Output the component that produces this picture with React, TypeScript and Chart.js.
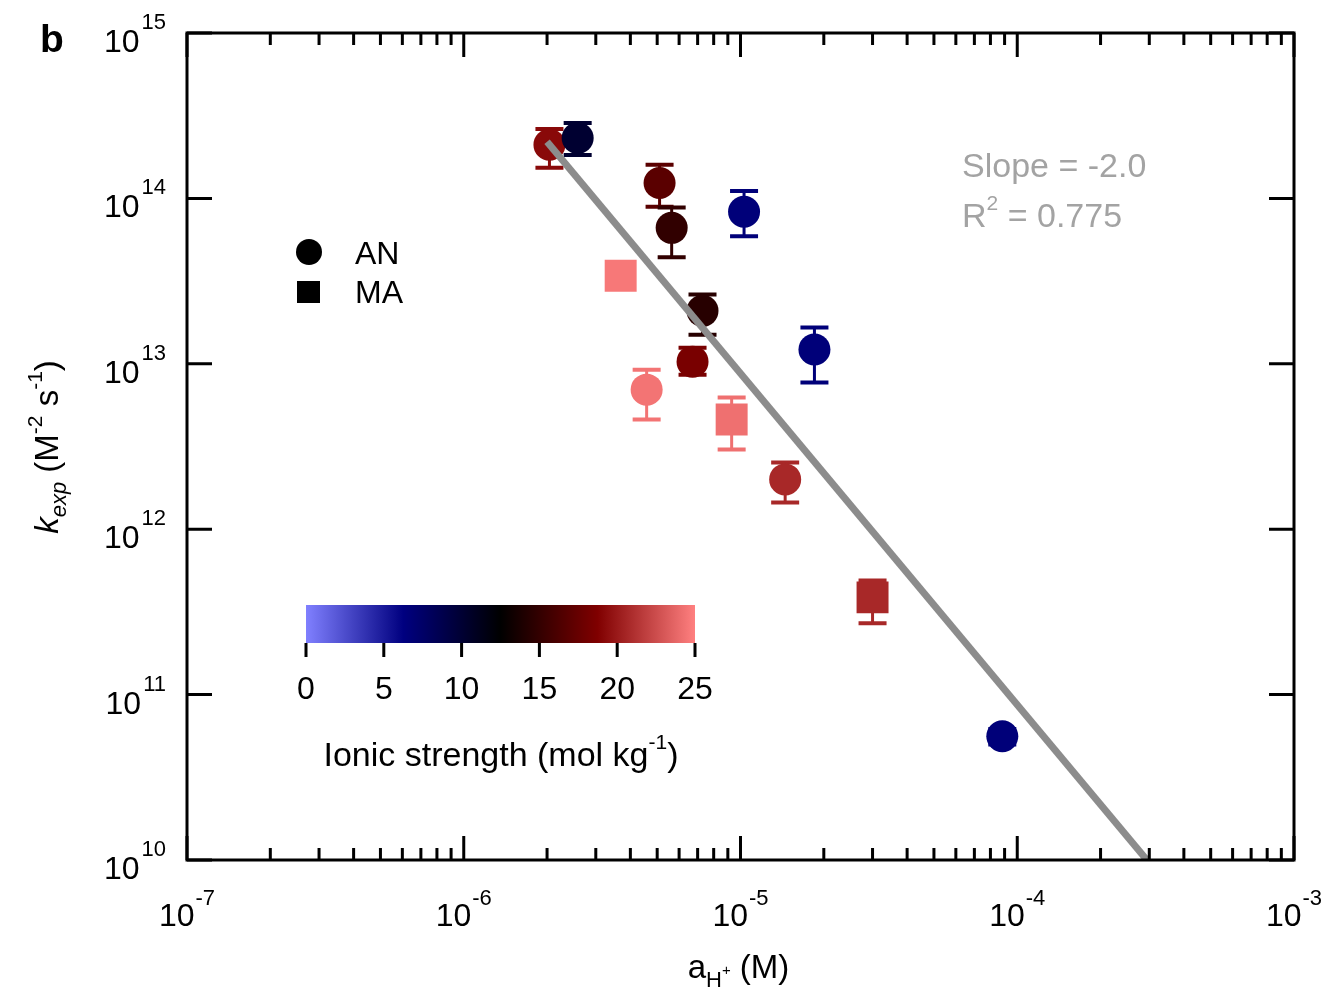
import React, { useEffect, useRef } from 'react';
import { Chart, registerables } from 'chart.js';

Chart.register(...registerables);

// ---------------- data ----------------
// AN (circles)
const anX = [2.04e-6, 2.58e-6, 5.1e-6, 5.64e-6, 1.03e-5, 7.29e-6, 6.71e-6, 1.85e-5, 4.58e-6, 1.45e-5, 8.83e-5];
const anY = [2.11e14, 2.32e14, 1.24e14, 6.64e13, 8.3e13, 2.09e13, 1.03e13, 1.22e13, 6.98e12, 2.0e12, 5.6e10];
const anYHigh = [2.63e14, 2.86e14, 1.6e14, 8.8e13, 1.11e14, 2.62e13, 1.25e13, 1.66e13, 9.2e12, 2.53e12, 6.2e10];
const anYLow = [1.53e14, 1.83e14, 8.9e13, 4.4e13, 5.9e13, 1.5e13, 8.6e12, 7.7e12, 4.6e12, 1.45e12, 5.0e10];
const anIonic = [19.2, 10.1, 16.9, 14.9, 6.6, 14.4, 18.4, 6.6, 24.4, 20.7, 6.6];

// MA (squares)
const maX = [3.69e-6, 9.29e-6, 3.0e-5];
const maY = [3.41e13, 4.6e12, 3.87e11];
const maYHigh = [3.9e13, 6.25e12, 4.9e11];
const maYLow = [3.0e13, 3.03e12, 2.7e11];
const maIonic = [24.6, 24.2, 20.7];

// fit line (slope -2.0)
const fitX = [2.0e-6, 2.94e-4];
const fitY = [2.2e14, 1.0e10];

// axes
const xMajor = [1e-7, 1e-6, 1e-5, 1e-4, 1e-3];
const xMajorExp = ['-7', '-6', '-5', '-4', '-3'];
const yMajor = [1e10, 1e11, 1e12, 1e13, 1e14, 1e15];
const yMajorExp = ['10', '11', '12', '13', '14', '15'];
const colorbarTicks = [0, 5, 10, 15, 20, 25];

// colour map for ionic strength
const cmapStops: [number, number[]][] = [
  [0, [128, 128, 255]],
  [6.25, [0, 0, 128]],
  [12.5, [0, 0, 0]],
  [18.75, [128, 0, 0]],
  [25, [255, 128, 128]],
];

function ionicColor(v: number): string {
  for (let i = 0; i < cmapStops.length - 1; i++) {
    const [a, ca] = cmapStops[i];
    const [b, cb] = cmapStops[i + 1];
    if (v <= b || i === cmapStops.length - 2) {
      const t = Math.max(0, Math.min(1, (v - a) / (b - a)));
      const c = ca.map((x, k) => Math.round(x + (cb[k] - x) * t));
      return `rgb(${c[0]},${c[1]},${c[2]})`;
    }
  }
  return 'black';
}

const FONT = '"Liberation Sans", Arial, Helvetica, sans-serif';

type Part = { t: string; size: number; dy?: number; gap?: number; italic?: boolean; bold?: boolean };

function fontOf(p: Part) {
  return `${p.italic ? 'italic ' : ''}${p.bold ? 'bold ' : ''}${p.size}px ${FONT}`;
}

function drawRich(ctx: CanvasRenderingContext2D, parts: Part[], x: number, y: number, align: 'left' | 'center' | 'right') {
  let w = 0;
  const widths: number[] = [];
  for (const p of parts) {
    ctx.font = fontOf(p);
    const m = ctx.measureText(p.t).width + (p.gap || 0);
    widths.push(m);
    w += m;
  }
  let sx = align === 'left' ? x : align === 'center' ? x - w / 2 : x - w;
  ctx.textAlign = 'left';
  ctx.textBaseline = 'alphabetic';
  parts.forEach((p, i) => {
    ctx.font = fontOf(p);
    ctx.fillText(p.t, sx + (p.gap || 0), y + (p.dy || 0));
    sx += widths[i];
  });
}

const decorPlugin = {
  id: 'decor',
  beforeDatasetsDraw(chart: any) {
    const ctx: CanvasRenderingContext2D = chart.ctx;
    const xs = chart.scales.x;
    const ys = chart.scales.y;
    const drawErr = (xv: number[], hi: number[], lo: number[], ion: number[]) => {
      xv.forEach((xx, i) => {
        const px = xs.getPixelForValue(xx);
        const ph = ys.getPixelForValue(hi[i]);
        const pl = ys.getPixelForValue(lo[i]);
        ctx.save();
        ctx.strokeStyle = ionicColor(ion[i]);
        ctx.lineWidth = 3;
        ctx.beginPath();
        ctx.moveTo(px, ph);
        ctx.lineTo(px, pl);
        ctx.stroke();
        ctx.lineWidth = 4;
        ctx.beginPath();
        ctx.moveTo(px - 14, ph);
        ctx.lineTo(px + 14, ph);
        ctx.moveTo(px - 14, pl);
        ctx.lineTo(px + 14, pl);
        ctx.stroke();
        ctx.restore();
      });
    };
    drawErr(anX, anYHigh, anYLow, anIonic);
    drawErr(maX, maYHigh, maYLow, maIonic);
  },
  afterDraw(chart: any) {
    const ctx: CanvasRenderingContext2D = chart.ctx;
    const xs = chart.scales.x;
    const ys = chart.scales.y;
    const { left, right, top, bottom } = chart.chartArea;
    ctx.save();
    ctx.fillStyle = '#000';
    ctx.strokeStyle = '#000';
    ctx.lineWidth = 3;
    ctx.lineCap = 'butt';
    // frame
    ctx.strokeRect(left, top, right - left, bottom - top);
    // x ticks (major + minor), bottom & top, inward
    ctx.beginPath();
    for (let d = 0; d < xMajor.length; d++) {
      const base = xMajor[d];
      const px = xs.getPixelForValue(base);
      ctx.moveTo(px, bottom);
      ctx.lineTo(px, bottom - 24);
      ctx.moveTo(px, top);
      ctx.lineTo(px, top + 24);
      if (d < xMajor.length - 1) {
        for (let m = 2; m <= 9; m++) {
          const pm = xs.getPixelForValue(base * m);
          ctx.moveTo(pm, bottom);
          ctx.lineTo(pm, bottom - 12);
          ctx.moveTo(pm, top);
          ctx.lineTo(pm, top + 12);
        }
      }
    }
    // y ticks (major only), left & right, inward
    for (const v of yMajor) {
      const py = ys.getPixelForValue(v);
      ctx.moveTo(left, py);
      ctx.lineTo(left + 25, py);
      ctx.moveTo(right, py);
      ctx.lineTo(right - 25, py);
    }
    ctx.stroke();

    // tick labels
    xMajor.forEach((v, i) => {
      const px = xs.getPixelForValue(v);
      drawRich(ctx, [
        { t: '10', size: 32 },
        { t: xMajorExp[i], size: 22, dy: -21, gap: 1 },
      ], px, bottom + 66, 'center');
    });
    yMajor.forEach((v, i) => {
      const py = ys.getPixelForValue(v);
      drawRich(ctx, [
        { t: '10', size: 32 },
        { t: yMajorExp[i], size: 22, dy: -23, gap: 2 },
      ], left - 21, py + 19, 'right');
    });

    // axis titles
    drawRich(ctx, [
      { t: 'a', size: 33 },
      { t: 'H', size: 22, dy: 9 },
      { t: '+', size: 15, dy: -3 },
      { t: ' (M)', size: 33 },
    ], (left + right) / 2 - 2, bottom + 118, 'center');

    ctx.save();
    ctx.translate(58, 447);
    ctx.rotate(-Math.PI / 2);
    drawRich(ctx, [
      { t: 'k', size: 33, italic: true },
      { t: 'exp', size: 22, italic: true, dy: 8 },
      { t: ' (M', size: 33 },
      { t: '-2', size: 21, dy: -16 },
      { t: ' s', size: 33 },
      { t: '-1', size: 21, dy: -16 },
      { t: ')', size: 33 },
    ], 0, 0, 'center');
    ctx.restore();

    // panel label
    drawRich(ctx, [{ t: 'b', size: 39, bold: true }], 40, 52, 'left');

    // legend
    ctx.beginPath();
    ctx.arc(309, 252, 13, 0, Math.PI * 2);
    ctx.fill();
    ctx.fillRect(297, 281, 23, 22);
    drawRich(ctx, [{ t: 'AN', size: 32 }], 355, 264, 'left');
    drawRich(ctx, [{ t: 'MA', size: 32 }], 355, 303, 'left');

    // colour bar
    const cbL = 306, cbR = 695, cbT = 605, cbB = 643;
    const grad = ctx.createLinearGradient(cbL, 0, cbR, 0);
    cmapStops.forEach(([v, c]) => grad.addColorStop(v / 25, `rgb(${c[0]},${c[1]},${c[2]})`));
    ctx.fillStyle = grad;
    ctx.fillRect(cbL, cbT, cbR - cbL, cbB - cbT);
    ctx.fillStyle = '#000';
    ctx.beginPath();
    colorbarTicks.forEach((v) => {
      const px = cbL + (v / 25) * (cbR - cbL);
      ctx.moveTo(px, cbB);
      ctx.lineTo(px, cbB + 14);
    });
    ctx.stroke();
    colorbarTicks.forEach((v) => {
      const px = cbL + (v / 25) * (cbR - cbL);
      drawRich(ctx, [{ t: String(v), size: 32 }], px, 699, 'center');
    });
    drawRich(ctx, [
      { t: 'Ionic strength (mol kg', size: 34 },
      { t: '-1', size: 21, dy: -17 },
      { t: ')', size: 34 },
    ], 501, 766, 'center');

    // fit statistics
    ctx.fillStyle = '#a3a3a3';
    drawRich(ctx, [{ t: 'Slope = -2.0', size: 34 }], 962, 177, 'left');
    drawRich(ctx, [
      { t: 'R', size: 34 },
      { t: '2', size: 21, dy: -17 },
      { t: ' = 0.775', size: 34 },
    ], 962, 227, 'left');
    ctx.restore();
  },
};

export default function App() {
  const ref = useRef<HTMLCanvasElement | null>(null);
  useEffect(() => {
    document.body.style.margin = '0';
    document.body.style.background = '#fff';
    const canvas = ref.current;
    if (!canvas) return;
    const anData = anX.map((x, i) => ({ x, y: anY[i] }));
    const maData = maX.map((x, i) => ({ x, y: maY[i] }));
    const fitData = fitX.map((x, i) => ({ x, y: fitY[i] }));
    const chart = new Chart(canvas, {
      type: 'scatter',
      data: {
        datasets: [
          {
            type: 'line',
            label: 'fit',
            data: fitData,
            borderColor: '#8c8c8c',
            borderWidth: 7,
            pointRadius: 0,
            fill: false,
            order: 0,
          } as any,
          {
            label: 'AN',
            data: anData,
            pointStyle: 'circle',
            pointRadius: 16,
            pointBorderWidth: 0,
            pointBackgroundColor: anIonic.map(ionicColor),
            backgroundColor: anIonic.map(ionicColor),
            borderWidth: 0,
            order: 1,
          },
          {
            label: 'MA',
            data: maData,
            pointStyle: 'rect',
            pointRadius: 22.6,
            pointBorderWidth: 0,
            pointBackgroundColor: maIonic.map(ionicColor),
            backgroundColor: maIonic.map(ionicColor),
            borderWidth: 0,
            order: 2,
          },
        ],
      },
      options: {
        responsive: false,
        animation: false,
        events: [],
        layout: { padding: { left: 187, right: 41, top: 33, bottom: 139 } },
        plugins: {
          legend: { display: false },
          tooltip: { enabled: false },
        },
        scales: {
          x: {
            type: 'logarithmic',
            min: 1e-7,
            max: 1e-3,
            display: false,
          },
          y: {
            type: 'logarithmic',
            min: 1e10,
            max: 1e15,
            display: false,
          },
        },
      },
      plugins: [decorPlugin],
    });
    return () => chart.destroy();
  }, []);
  return (
    <canvas
      ref={ref}
      width={1335}
      height={999}
      style={{ display: 'block', width: 1335, height: 999 }}
    />
  );
}
